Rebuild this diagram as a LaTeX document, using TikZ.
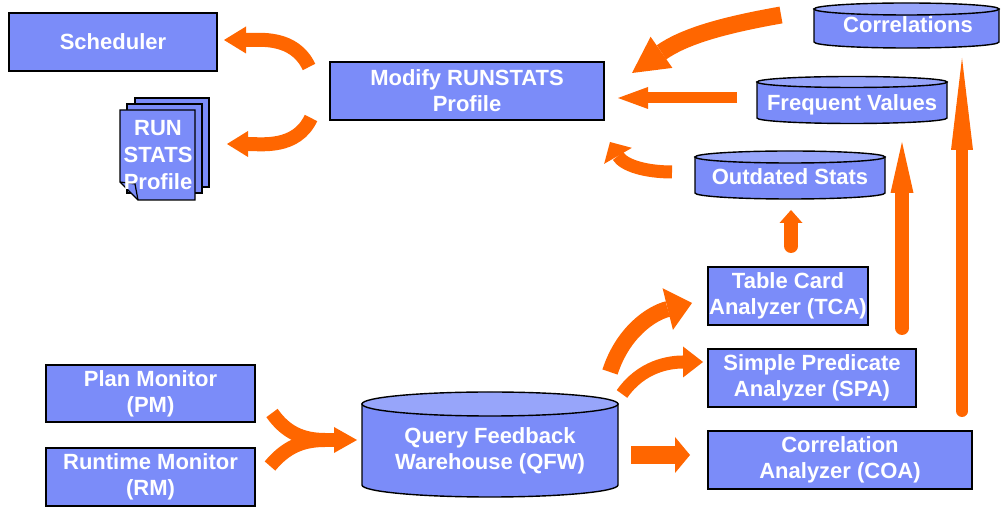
\documentclass[tikz,border=0pt]{standalone}
\usepackage{fontspec}
\setmainfont{Liberation Sans}
\usetikzlibrary{arrows.meta}
\definecolor{boxblue}{HTML}{7B8CF9}
\definecolor{toplight}{HTML}{97A5FA}
\definecolor{flowor}{HTML}{FF6600}
\newcommand\drawcyl[5]{%
  \filldraw[cylbody] (#1,#3) -- (#1,#4) arc[start angle=180,end angle=360,x radius={(#2-#1)/2},y radius=#5] -- (#2,#3) -- cycle;
  \filldraw[cyltop] ({(#1+#2)/2},#3) ellipse[x radius={(#2-#1)/2},y radius=#5];
}
\begin{document}
\begin{tikzpicture}[x=1pt,y=1pt,
  lbl/.style={text=white,font=\fontsize{22}{26}\selectfont\bfseries,align=center,inner sep=0pt},
  box/.style={lbl,draw=black,line width=1.4pt,fill=boxblue,minimum height=58pt},
  cylbody/.style={fill=boxblue,draw=black,line width=1.4pt},
  cyltop/.style={fill=toplight,draw=black,line width=1.4pt},
  sheet/.style={fill=boxblue,draw=black,line width=1.4pt},
  flow/.style={draw=flowor,line width=#1},
  tipT/.style 2 args={arrows={-{Triangle[width=#1,length=#2,line width=0pt]}}},
  ]
\fill[white] (0,0) rectangle (1001,508);
\useasboundingbox (0,0) rectangle (1001,508);

% boxes
\node[box, minimum width=208pt] (sched) at (113,466) {Scheduler};
\node[box, minimum width=274pt] (modify) at (467,417) {Modify RUNSTATS\\Profile};
\node[box, minimum width=160pt] (tca) at (788,212) {Table Card\\Analyzer (TCA)};
\node[box, minimum width=208pt] (spa) at (812,130) {Simple Predicate\\Analyzer (SPA)};
\node[box, minimum width=264pt] (coa) at (840,48) {Correlation\\Analyzer (COA)};
\node[box, minimum width=209pt, minimum height=57pt] (pm) at (150.5,114.5) {Plan Monitor\\(PM)};
\node[box, minimum width=209pt] (rm) at (150.5,31) {Runtime Monitor\\(RM)};

% document stack
\filldraw[sheet] (135,410) rectangle (209,321);
\filldraw[sheet] (127,404) rectangle (202,315);
\filldraw[sheet] (120,398) -- (195,398) -- (195,308) -- (138,308) -- (120,326) -- cycle;
\draw[black,line width=1.2pt] (120,326) -- (135,324) -- (138,308);
\node[lbl] (doc) at (158,353) {RUN\\[1pt]STATS\\[1pt]Profile};

% cylinders
\drawcyl{814}{999}{499}{466}{6}
\node[lbl,anchor=base] (corr) at (908,475) {Correlations};
\drawcyl{757}{947}{426}{390}{5.5}
\node[lbl,anchor=base] (freq) at (852,397) {Frequent Values};
\drawcyl{695}{885}{351}{315}{6}
\node[lbl,anchor=base] (outd) at (790,323) {Outdated Stats};
\drawcyl{362}{618}{104}{23}{12}
\node[lbl] (qfw) at (490,57) {Query Feedback\\Warehouse (QFW)};

% arrows
\coordinate (s1) at (309,441); \coordinate (e1) at (224,468);
\draw[flow=14pt, tipT={27pt}{22pt}] (s1) to[out=115,in=0] (e1);
\coordinate (s2) at (311,390); \coordinate (e2) at (227,364);
\draw[flow=14pt, tipT={26pt}{21pt}] (s2) to[out=245,in=0] (e2);
\coordinate (s3) at (781,493); \coordinate (e3) at (632,435);
\draw[flow=17pt, tipT={38pt}{36pt}] (s3) to[out=190,in=35] (e3);
\coordinate (s4) at (737,410); \coordinate (e4) at (618,410);
\draw[flow=11pt, tipT={22pt}{30pt}] (s4) -- (e4);
\coordinate (s5) at (672,336); \coordinate (e5) at (610,366);
\draw[flow=13pt, tipT={32pt}{16pt}] (s5) to[out=180,in=-60] (e5);

\coordinate (s6) at (791,262); \coordinate (e6) at (791,298);
\fill[flowor] (s6) circle (7pt);
\draw[flow=14pt, tipT={23pt}{13pt}] (s6) -- (e6);
\coordinate (s7) at (902,180); \coordinate (e7) at (902,366);
\fill[flowor] (s7) circle (7pt);
\draw[flow=14pt, tipT={23pt}{51pt}] (s7) -- (e7);
\coordinate (s8) at (962,97); \coordinate (e8) at (962,450);
\fill[flowor] (s8) circle (6pt);
\draw[flow=12pt, tipT={22pt}{92pt}] (s8) -- (e8);

\coordinate (s9) at (610,136); \coordinate (e9) at (692,205);
\draw[flow=16pt, tipT={43pt}{25pt}] (s9) to[out=72,in=194] (e9);
\coordinate (s10) at (622,114); \coordinate (e10) at (703,146);
\draw[flow=13pt, tipT={31pt}{20pt}] (s10) to[out=55,in=180] (e10);
\coordinate (s11) at (631,53); \coordinate (e11) at (690,53);
\draw[flow=18pt, tipT={36pt}{15pt}] (s11) -- (e11);

\coordinate (s12a) at (272,95); \coordinate (s12b) at (270,42);
\coordinate (m12) at (325,68); \coordinate (e12) at (357,68);
\draw[flow=14pt] (s12a) to[out=-55,in=180] (m12);
\draw[flow=14pt] (s12b) to[out=50,in=180] (m12);
\draw[flow=14pt, tipT={26pt}{23pt}] ([xshift=-1pt]m12) -- (e12);
\end{tikzpicture}
\end{document}
